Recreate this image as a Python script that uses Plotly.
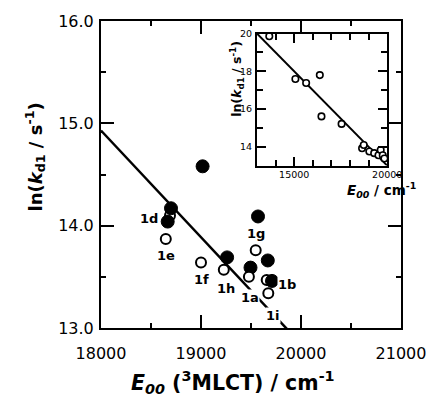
import plotly.graph_objects as go

# ---- main panel: E00(3MLCT) vs ln(k_d1); points in drawing order ----
e00 = [18690, 18700, 18667, 18648, 19000, 19016, 19261, 19228, 19495, 19479,
       19547, 19570, 19668, 19657, 19710, 19673]
lnk = [14.10, 14.17, 14.04, 13.87, 13.64, 14.58, 13.69, 13.57, 13.59, 13.50,
       13.76, 14.09, 13.66, 13.47, 13.46, 13.34]
filled = [False, True, True, False, False, True, True, False, True, False,
          False, True, True, False, True, False]

# compound labels and their anchor positions
label_text = ["1d", "1e", "1f", "1h", "1a", "1g", "1b", "1i"]
label_e00 = [18479, 18648, 19007, 19250, 19485, 19554, 19860, 19715]
label_lnk = [14.07, 13.71, 13.47, 13.39, 13.30, 13.92, 13.43, 13.12]

# linear fit drawn across the main panel
fit_e00 = [18000, 19860]
fit_lnk = [14.93, 12.99]

# ---- inset: full data set ----
inset_e00 = [13660, 15064, 15642, 16377, 16466, 17548, 18650, 18740, 19040,
             19300, 19530, 19650, 19760, 19850]
inset_lnk = [19.86, 17.59, 17.38, 17.80, 15.61, 15.21, 13.92, 14.09, 13.75,
             13.66, 13.55, 13.83, 13.55, 13.38]
inset_fit_e00 = [13000, 20000]
inset_fit_lnk = [20.0, 13.0]

FONT = "DejaVu Sans"

fig = go.Figure()

fig.add_trace(go.Scatter(
    x=fit_e00, y=fit_lnk, mode="lines",
    line=dict(color="black", width=2.5), showlegend=False,
))
fig.add_trace(go.Scatter(
    x=e00, y=lnk, mode="markers", showlegend=False,
    marker=dict(
        size=[13 if f else 10 for f in filled],
        color=["#000000" if f else "#ffffff" for f in filled],
        line=dict(color="#000000", width=[1 if f else 2 for f in filled]),
        symbol="circle", opacity=1,
    ),
))

fig.add_trace(go.Scatter(
    x=inset_fit_e00, y=inset_fit_lnk, mode="lines", xaxis="x2", yaxis="y2",
    line=dict(color="black", width=2), showlegend=False,
))
fig.add_trace(go.Scatter(
    x=inset_e00, y=inset_lnk, mode="markers", xaxis="x2", yaxis="y2",
    showlegend=False,
    marker=dict(size=6.5, color="white", opacity=1,
                line=dict(color="black", width=1.6)),
))

for t, x, y in zip(label_text, label_e00, label_lnk):
    fig.add_annotation(
        x=x, y=y, xref="x", yref="y", text=f"<b>{t}</b>", showarrow=False,
        xanchor="center", yanchor="middle",
        font=dict(family=FONT, size=13, color="black"),
        bgcolor="white", borderpad=0,
    )


def title_note(x, y, text, size, angle=0):
    fig.add_annotation(
        x=x, y=y, xref="paper", yref="paper", showarrow=False, textangle=angle,
        xanchor="center", yanchor="middle", text=text,
        font=dict(family=FONT, size=size, color="black"),
    )


# axis titles
title_note(0.44, -0.177,
           "<b><i>E<sub>00</sub></i> (<sup>3</sup>MLCT) / cm<sup>-1</sup></b>", 20.5)
title_note(-0.221, 0.558,
           "<b>ln(<i>k</i><sub>d1</sub> / s<sup>-1</sup>)</b>", 18, -90)
title_note(0.935, 0.450,
           "<b><i>E<sub>00</sub></i> / cm<sup>-1</sup></b>", 13.5)
title_note(0.455, 0.81,
           "<b>ln(<i>k</i><sub>d1</sub> / s<sup>-1</sup>)</b>", 12.5, -90)

main_axis = dict(
    showline=True, linewidth=2, linecolor="black", mirror="ticks",
    ticks="inside", ticklen=13, tickwidth=2, tickcolor="black",
    showgrid=False, zeroline=False,
    tickfont=dict(family=FONT, size=16, color="black"),
)
inset_axis = dict(
    showline=True, linewidth=2, linecolor="black", mirror="ticks",
    ticks="inside", ticklen=9, tickwidth=1.5, tickcolor="black",
    showgrid=False, zeroline=False,
    tickfont=dict(family=FONT, size=9.5, color="black"),
)

fig.update_layout(
    width=438, height=396,
    margin=dict(l=101, r=30, t=18, b=68),
    paper_bgcolor="white", plot_bgcolor="white",
    xaxis=dict(main_axis, range=[18000, 21000], tick0=18000, dtick=1000,
               tickformat="d", ticklabelstandoff=10,
               minor=dict(dtick=500, ticks="inside", ticklen=5, tickwidth=2,
                          tickcolor="black")),
    yaxis=dict(main_axis, range=[13, 16], tick0=13, dtick=1, tickformat=".1f",
               ticklabelstandoff=2,
               minor=dict(dtick=0.5, ticks="inside", ticklen=5, tickwidth=2,
                          tickcolor="black")),
    xaxis2=dict(inset_axis, domain=[0.520, 0.954], anchor="y2",
                range=[13000, 20000], tick0=15000, dtick=5000, tickformat="d",
                ticklabelstandoff=-1,
                minor=dict(dtick=1000, ticks="inside", ticklen=6, tickwidth=1.5,
                           tickcolor="black")),
    yaxis2=dict(inset_axis, domain=[0.529, 0.959], anchor="x2",
                range=[13, 20], tick0=14, dtick=2, ticklabelstandoff=1,
                minor=dict(dtick=1, ticks="inside", ticklen=6, tickwidth=1.5,
                           tickcolor="black")),
)

fig.write_html("out.html")
